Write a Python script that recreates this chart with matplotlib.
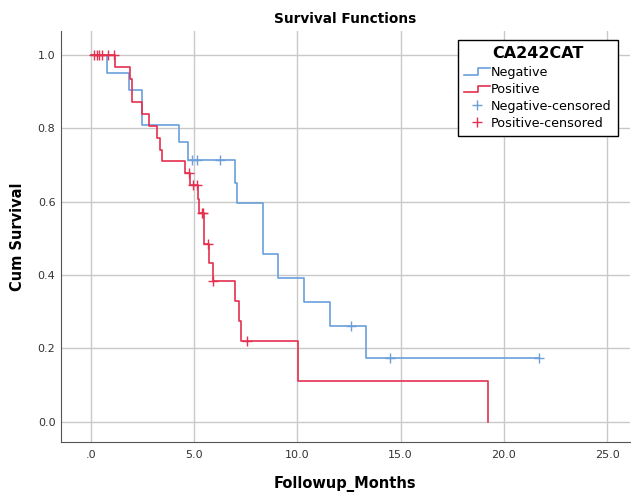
import matplotlib.pyplot as plt
from matplotlib.legend_handler import HandlerBase
from matplotlib.lines import Line2D

# Kaplan-Meier steps
neg_t = [0.0, 0.78, 1.86, 2.49, 4.28, 4.72, 6.98, 7.09, 8.32, 9.07, 10.30, 11.60, 13.30, 21.70]
neg_s = [1.0, 0.952, 0.905, 0.810, 0.762, 0.714, 0.651, 0.595, 0.456, 0.391, 0.326, 0.261, 0.174, 0.174]
neg_cens_t = [4.88, 5.12, 6.25, 12.60, 14.50, 21.70]
neg_cens_s = [0.714, 0.714, 0.714, 0.261, 0.174, 0.174]

pos_t = [0.0, 1.18, 1.90, 1.98, 2.49, 2.83, 3.18, 3.36, 3.44, 4.55, 4.82, 5.17, 5.22, 5.50,
         5.72, 5.89, 6.98, 7.18, 7.25, 10.04, 19.25]
pos_s = [1.0, 0.968, 0.935, 0.871, 0.839, 0.806, 0.774, 0.742, 0.710, 0.678, 0.645, 0.608, 0.568, 0.484,
         0.434, 0.384, 0.330, 0.276, 0.221, 0.111, 0.0]
pos_cens_t = [0.16, 0.28, 0.40, 0.52, 0.85, 1.12, 4.74, 4.95, 5.12, 5.38, 5.45, 5.68, 5.92, 7.54]
pos_cens_s = [1.0, 1.0, 1.0, 1.0, 1.0, 1.0, 0.678, 0.645, 0.645, 0.568, 0.568, 0.484, 0.384, 0.221]

x_ticks = [0, 5, 10, 15, 20, 25]
x_labels = ['.0', '5.0', '10.0', '15.0', '20.0', '25.0']
y_ticks = [0.0, 0.2, 0.4, 0.6, 0.8, 1.0]

azul = '#6a9fdb'
rojo = '#e5304f'


class HandlerStep(HandlerBase):
    # little step symbol like the SPSS legend
    def create_artists(self, legend, orig, xd, yd, w, h, fontsize, trans):
        xs = [xd, xd + 0.55 * w, xd + 0.55 * w, xd + w]
        ys = [yd + 0.1 * h, yd + 0.1 * h, yd + 0.8 * h, yd + 0.8 * h]
        l = Line2D(xs, ys, color=orig.get_color(), lw=1.2, transform=trans)
        return [l]


fig = plt.figure(figsize=(6.31, 4.93), dpi=100)
ax = fig.add_axes([0.0967, 0.1035, 0.9013, 0.8335])

neg_line, = ax.step(neg_t, neg_s, where='post', color=azul, lw=1.2)
pos_line, = ax.step(pos_t, pos_s, where='post', color=rojo, lw=1.2)
neg_c, = ax.plot(neg_cens_t, neg_cens_s, '+', color=azul, ms=7, mew=1.0)
pos_c, = ax.plot(pos_cens_t, pos_cens_s, '+', color=rojo, ms=7, mew=1.0)

ax.set_xlim(-1.45, 26.1)
ax.set_ylim(-0.055, 1.065)
ax.set_xticks(x_ticks)
ax.set_xticklabels(x_labels)
ax.set_yticks(y_ticks)
ax.set_yticklabels([f'{v:.1f}' for v in y_ticks])
ax.tick_params(length=0, labelsize=8, colors='#333333')
ax.tick_params(axis='x', pad=6)
ax.tick_params(axis='y', pad=4)
ax.grid(True, color='#c9c9c9', lw=1.0)
ax.set_axisbelow(True)
for lado in ['top', 'right']:
    ax.spines[lado].set_visible(False)
for lado in ['left', 'bottom']:
    ax.spines[lado].set_color('#555555')

ax.set_title('Survival Functions', fontsize=9.8, fontweight='bold', pad=6)
ax.set_xlabel('Followup_Months', fontsize=10.5, fontweight='bold', labelpad=11)
ax.set_ylabel('Cum Survival', fontsize=10.5, fontweight='bold', labelpad=9)

leg = ax.legend([neg_line, pos_line, neg_c, pos_c],
                ['Negative', 'Positive', 'Negative-censored', 'Positive-censored'],
                title='CA242CAT', loc='upper right', bbox_to_anchor=(0.979, 0.978),
                borderaxespad=0,
                handler_map={neg_line: HandlerStep(), pos_line: HandlerStep()},
                fontsize=9.2, title_fontproperties={'weight': 'bold', 'size': 11.5},
                frameon=True, fancybox=False, framealpha=1, edgecolor='black',
                handlelength=2.0, handletextpad=0.1, labelspacing=0.32, borderpad=0.5)
leg.get_frame().set_linewidth(1.0)

plt.savefig('out.png', dpi=100)
